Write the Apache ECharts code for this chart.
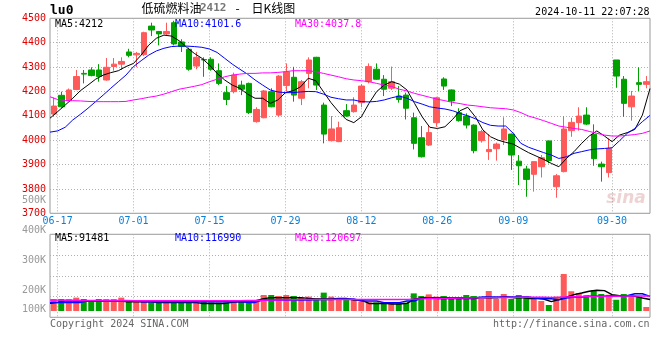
<!DOCTYPE html>
<html><head><meta charset="utf-8">
<script src="https://cdn.jsdelivr.net/npm/echarts@6/dist/echarts.min.js"></script>
<style>html,body{margin:0;padding:0;background:#fff}#c{width:660px;height:360px}</style>
</head><body><div id="c"></div>
<script>
const dates = ['06-14',
'06-17','06-18','06-19','06-20','06-21','06-24','06-25','06-26','06-27','06-28',
'07-01','07-02','07-03','07-04','07-05','07-08','07-09','07-10','07-11','07-12',
'07-15','07-16','07-17','07-18','07-19','07-22','07-23','07-24','07-25','07-26',
'07-29','07-30','07-31','08-01','08-02','08-05','08-06','08-07','08-08','08-09',
'08-12','08-13','08-14','08-15','08-16','08-19','08-20','08-21','08-22','08-23',
'08-26','08-27','08-28','08-29','08-30','09-02','09-03','09-04','09-05','09-06',
'09-09','09-10','09-11','09-12','09-13','09-18','09-19','09-20','09-23','09-24',
'09-25','09-26','09-27','09-30','10-08','10-09','10-10','10-11','10-14'];
const labelDates = ['06-17','07-01','07-15','07-29','08-12','08-26','09-09','09-30'];

const open = [4107,4184,4162,4208,4274,4288,4288,4247,4302,4312,
4362,4350,4351,4468,4446,4436,4482,4403,4373,4304,
4331,4332,4285,4195,4199,4226,4233,4076,4092,4199,
4103,4224,4258,4172,4274,4340,4144,3998,3994,4121,
4117,4154,4240,4291,4250,4213,4181,4185,4092,4010,
3980,4072,4251,4206,4113,4099,4062,3998,3953,3965,
4001,4025,3914,3882,3860,3891,3997,3809,3871,4039,
4072,4103,4024,3902,3867,4329,4250,4137,4236,4229];
const close = [4140,4137,4206,4261,4271,4265,4261,4299,4312,4323,
4348,4356,4441,4452,4436,4446,4395,4384,4291,4340,
4329,4291,4233,4167,4267,4209,4113,4126,4202,4137,
4263,4280,4185,4240,4329,4226,4025,4046,4051,4099,
4144,4222,4302,4250,4209,4240,4167,4131,3987,3932,
4031,4174,4222,4161,4080,4062,3957,4035,3962,3984,
4046,3939,3895,3839,3912,3928,3916,3854,4046,4073,
4099,4066,3924,3891,3966,4263,4151,4181,4229,4240];
const high = [4175,4199,4212,4288,4288,4299,4312,4337,4337,4340,
4375,4362,4445,4482,4448,4482,4490,4414,4380,4362,
4340,4340,4315,4222,4277,4244,4236,4135,4206,4213,
4267,4315,4301,4247,4340,4342,4154,4099,4076,4148,
4176,4230,4315,4315,4267,4302,4222,4195,4113,4058,
4058,4178,4258,4208,4131,4110,4065,4042,4025,3990,
4094,4027,3939,3895,3912,3939,3997,3861,4099,4092,
4135,4135,4065,3912,4007,4329,4263,4202,4299,4263];
const low = [4097,4133,4160,4205,4233,4262,4240,4244,4285,4288,
4340,4300,4345,4427,4389,4430,4389,4362,4285,4291,
4260,4285,4226,4144,4192,4185,4107,4072,4090,4135,
4096,4199,4158,4144,4213,4206,3987,3995,3992,4096,
4113,4135,4233,4247,4181,4206,4154,4085,3962,3929,
3976,4055,4206,4140,4076,4048,3946,3990,3919,3916,
3980,3878,3816,3768,3789,3847,3905,3764,3868,4014,
4039,4062,3895,3830,3847,4215,4096,4080,4202,4213];

const ma5 = [4090,4117,4144,4172,4203,4226,4250,4267,4277,4285,
4302,4315,4349,4390,4418,4431,4427,4408,4381,4356,
4336,4308,4274,4247,4226,4213,4189,4172,4172,4151,
4165,4195,4203,4219,4254,4244,4199,4154,4117,4085,
4072,4096,4151,4199,4226,4240,4230,4206,4151,4096,
4053,4048,4055,4085,4121,4135,4096,4042,4014,4000,
3991,3984,3966,3949,3935,3921,3905,3891,3925,3953,
3987,4017,4038,4017,3994,4021,4031,4044,4103,4212];
const ma10 = [4033,4038,4053,4083,4106,4131,4158,4185,4213,4240,
4267,4302,4326,4349,4366,4377,4384,4386,4386,4384,
4381,4374,4360,4336,4312,4291,4271,4247,4226,4206,
4198,4195,4195,4198,4200,4199,4189,4176,4170,4165,
4165,4158,4157,4159,4165,4174,4181,4172,4158,4148,
4137,4132,4128,4121,4110,4100,4088,4072,4061,4058,
4058,4028,3987,3971,3960,3949,3939,3925,3932,3946,
3953,3960,3964,3966,3969,3998,4028,4048,4076,4101.6];
const ma30 = [4178,4167,4163,4162,4161,4159,4158,4158,4158,4158,
4159,4165,4170,4176,4181,4189,4199,4209,4215,4221,
4228,4240,4250,4260,4267,4271,4274,4274,4276,4276,
4278,4281,4285,4285,4285,4281,4274,4267,4260,4252,
4247,4244,4240,4233,4226,4220,4209,4202,4192,4184,
4176,4168,4162,4155,4150,4144,4141,4137,4133,4131,
4129,4124,4113,4099,4090,4080,4069,4058,4053,4048,
4044,4036,4028,4021,4017,4017,4020,4023,4028,4037.8];

const volume = [96000,96000,96000,107000,96000,75000,96000,96000,96000,107000,
80000,75000,80000,69000,88000,75000,75000,69000,69000,69000,
88000,69000,67000,69000,80000,80000,88000,75000,128000,128000,
120000,128000,120000,107000,115000,101000,147000,115000,96000,96000,
88000,75000,69000,69000,69000,69000,61000,67000,141000,120000,
133000,115000,120000,101000,96000,128000,120000,96000,160000,96000,
136000,96000,128000,115000,96000,80000,48000,115000,296000,158000,
144000,126000,166000,136000,130000,90000,136000,118000,110000,32000];
const vma5 = [61000,69000,80000,80000,80000,80000,80000,80000,80000,80000,
75000,75000,75000,75000,69000,69000,69000,69000,69000,69000,
61000,61000,61000,61000,69000,75000,75000,80000,96000,107000,
107000,107000,107000,107000,101000,96000,96000,96000,101000,101000,
88000,88000,61000,61000,61000,56000,56000,61000,96000,104000,
104000,101000,101000,101000,101000,101000,101000,107000,107000,107000,
112000,107000,107000,101000,101000,96000,75000,91000,110000,131000,
144000,158000,166000,163000,131000,123000,123000,118000,104000,91481];
const vma10 = [69000,69000,69000,69000,69000,80000,80000,80000,80000,80000,
80000,80000,75000,75000,75000,75000,75000,75000,75000,75000,
75000,75000,75000,75000,75000,75000,69000,69000,88000,88000,
88000,88000,88000,88000,88000,90000,92000,92000,96000,96000,
96000,80000,80000,80000,67000,67000,67000,80000,80000,107000,
107000,107000,107000,107000,107000,107000,107000,112000,112000,112000,
112000,112000,112000,112000,101000,98000,98000,90000,104000,112000,
112000,118000,118000,118000,122000,122000,122000,138000,138000,116990];
const vma30 = [88000,87000,86000,86000,85000,85000,85000,84000,84000,84000,
84000,83000,83000,83000,83000,82000,82000,82000,82000,82000,
82000,82000,82000,82000,82000,83000,84000,85000,86000,87000,
88000,89000,90000,91000,92000,92000,92000,93000,93000,93000,
93000,92000,92000,92000,92000,92000,92000,93000,95000,97000,
99000,100000,101000,102000,103000,104000,105000,106000,107000,108000,
109000,109000,110000,110000,110000,110000,109000,110000,112000,114000,
115000,116000,117000,118000,119000,119000,120000,120000,121000,120697];

const priceTicks = {min: 3700, max: 4500, step: 100};
const volTickLabels = {min: 100000, max: 500000, step: 100000};
const titleText = '低硫燃料油';
const contractText = '2412';
const chartKind = '日K线图';
const symbolText = 'lu0';
const timeText = '2024-10-11 22:07:28';

const UP = '#ff5a5a', DOWN = '#00a000';
const MONO = '"DejaVu Sans Mono", "Liberation Mono", monospace';
const isLabel = (i, v) => labelDates.indexOf(v) >= 0;
const dotted = {color: '#b0b0b0', type: [1, 2], width: 1};

const chart = echarts.init(document.getElementById('c'), null, {renderer: 'canvas'});
const last = a => a[a.length - 1];

function txt(x, y, text, font, fill, align) {
  return {type: 'text', x: x, y: y, z: 100, silent: true,
    style: {text: text, font: font, fill: fill, textAlign: align || 'left', textVerticalAlign: 'middle'}};
}

const option = {
  animation: false,
  backgroundColor: '#fff',
  textStyle: {fontFamily: MONO},
  grid: [
    {left: 50, top: 18.3, width: 600, height: 195, show: true, borderColor: '#999', borderWidth: 1},
    {left: 50, top: 234.3, width: 600, height: 83, show: true, borderColor: '#999', borderWidth: 1},
    {left: 50, top: 200.2, width: 600, height: 120.4, show: false}
  ],
  xAxis: [
    {type: 'category', gridIndex: 0, data: dates, boundaryGap: true, show: false},
    {type: 'category', gridIndex: 0, data: dates, boundaryGap: false, position: 'bottom', offset: 0,
      axisLine: {show: false}, axisTick: {show: false},
      axisLabel: {interval: isLabel, hideOverlap: false, color: '#0a7fd6', fontFamily: MONO, fontSize: 10, margin: 3},
      splitLine: {show: true, interval: isLabel, lineStyle: dotted}},
    {type: 'category', gridIndex: 1, data: dates, boundaryGap: true, show: false},
    {type: 'category', gridIndex: 1, data: dates, boundaryGap: false, position: 'bottom',
      axisLine: {show: false}, axisTick: {show: false}, axisLabel: {show: false},
      splitLine: {show: true, interval: isLabel, lineStyle: dotted}},
    {type: 'value', gridIndex: 2, show: false, min: 0, max: 1}
  ],
  yAxis: [
    {type: 'value', gridIndex: 0, min: priceTicks.min, max: priceTicks.max, interval: priceTicks.step,
      axisLine: {show: false}, axisTick: {show: false},
      axisLabel: {color: '#e00000', fontFamily: MONO, fontSize: 10, margin: 4, hideOverlap: false, formatter: v => String(v)},
      splitLine: {show: true, lineStyle: dotted}},
    {type: 'value', gridIndex: 1, min: -50400, max: 613600, interval: 166000,
      axisLine: {show: false}, axisTick: {show: false}, axisLabel: {show: false},
      splitLine: {show: true, lineStyle: dotted}},
    {type: 'value', gridIndex: 2, min: volTickLabels.min, max: volTickLabels.max, interval: volTickLabels.step,
      axisLine: {show: false}, axisTick: {show: false}, splitLine: {show: false},
      axisLabel: {color: '#999', fontFamily: MONO, fontSize: 10, margin: 4, hideOverlap: false,
        formatter: v => v === volTickLabels.min ? '{lift|' + (v / 1000) + 'K}' : (v / 1000) + 'K',
        rich: {lift: {color: '#999', fontFamily: MONO, fontSize: 10, padding: [0, 0, 23, 0]}}}}
  ],
  series: [
    {type: 'candlestick', xAxisIndex: 0, yAxisIndex: 0, barWidth: 6,
      data: dates.map((d, i) => [open[i], close[i], low[i], high[i]]),
      itemStyle: {color: UP, color0: DOWN, borderColor: UP, borderColor0: DOWN, borderWidth: 1}},
    {type: 'line', xAxisIndex: 1, yAxisIndex: 0, data: ma5, showSymbol: false, z: 5,
      lineStyle: {color: '#000', width: 1}},
    {type: 'line', xAxisIndex: 1, yAxisIndex: 0, data: ma10, showSymbol: false, z: 5,
      lineStyle: {color: '#0000ff', width: 1}},
    {type: 'line', xAxisIndex: 1, yAxisIndex: 0, data: ma30, showSymbol: false, z: 5,
      lineStyle: {color: '#ff00ff', width: 1}},
    {type: 'bar', xAxisIndex: 2, yAxisIndex: 1, barWidth: 6,
      data: volume.map((v, i) => ({value: v, itemStyle: {color: close[i] >= open[i] ? UP : DOWN}}))},
    {type: 'line', xAxisIndex: 3, yAxisIndex: 1, data: vma5, showSymbol: false, z: 5,
      lineStyle: {color: '#000', width: 1.5}},
    {type: 'line', xAxisIndex: 3, yAxisIndex: 1, data: vma10, showSymbol: false, z: 5,
      lineStyle: {color: '#0000ff', width: 1.5}},
    {type: 'line', xAxisIndex: 3, yAxisIndex: 1, data: vma30, showSymbol: false, z: 5,
      lineStyle: {color: '#ff00ff', width: 1.5}}
  ],
  graphic: [
    txt(50, 10.5, symbolText, 'bold 13px ' + MONO, '#000'),
    txt(141.5, 8, titleText, '12px "Noto Sans CJK SC"', '#000'),
    txt(200, 8.5, contractText, 'bold 11px ' + MONO, '#777'),
    txt(237.5, 8, '-', '12px "Noto Sans CJK SC"', '#000', 'center'),
    txt(251.5, 8, chartKind, '12px "Noto Sans CJK SC"', '#000'),
    txt(649.5, 12.5, timeText, '10px ' + MONO, '#000', 'right'),
    txt(55, 24, 'MA5:' + last(ma5), '10px ' + MONO, '#000'),
    txt(175, 24, 'MA10:' + last(ma10), '10px ' + MONO, '#0000ff'),
    txt(295, 24, 'MA30:' + last(ma30), '10px ' + MONO, '#ff00ff'),
    txt(55, 238.5, 'MA5:' + last(vma5), '10px ' + MONO, '#000'),
    txt(175, 238.5, 'MA10:' + last(vma10), '10px ' + MONO, '#0000ff'),
    txt(295, 238.5, 'MA30:' + last(vma30), '10px ' + MONO, '#ff00ff'),
    txt(50, 324, 'Copyright 2024 SINA.COM', '10px ' + MONO, '#666'),
    txt(649.5, 324, 'http://finance.sina.com.cn', '10px ' + MONO, '#666', 'right'),
    txt(626, 199, 'sina', 'italic bold 17px "DejaVu Sans"', 'rgba(200,110,110,0.3)', 'center')
  ]
};
chart.setOption(option);
</script>
</body></html>
